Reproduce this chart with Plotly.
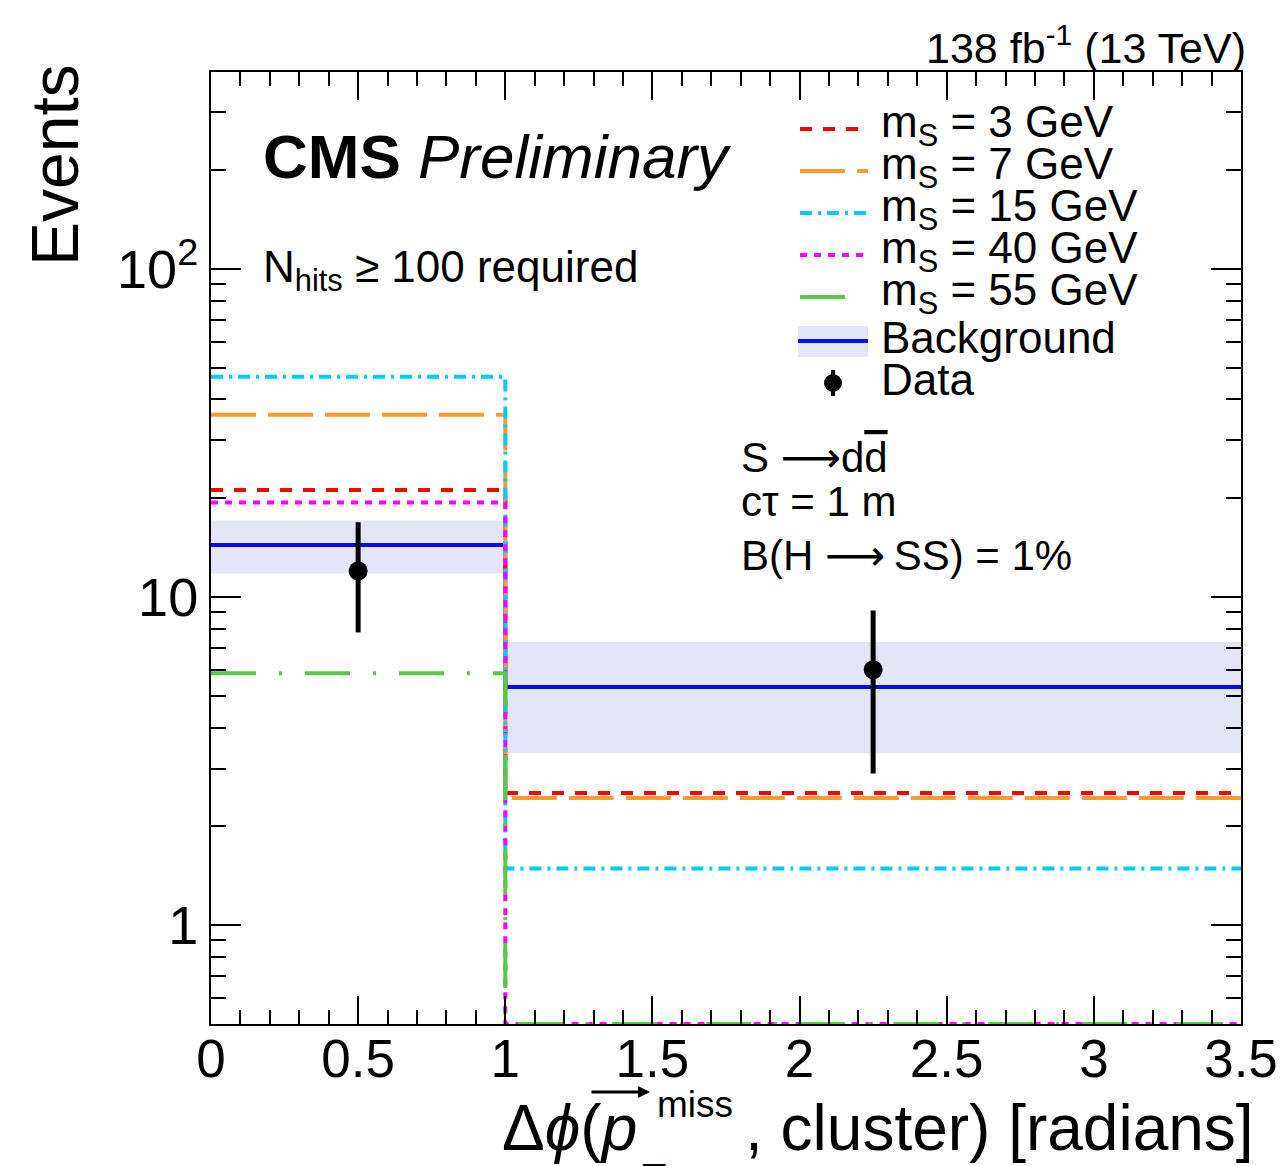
import math
import plotly.graph_objects as go

# ---------------- data ----------------
bin_edges = [0.0, 1.0, 3.5]
bkg = [14.4, 5.32]
bkg_up = [17.1, 7.3]
bkg_dn = [11.8, 3.34]

data_x = [0.5, 2.25]
data_y = [12.0, 6.0]
data_hi = [16.9, 9.1]
data_lo = [7.8, 2.9]

sig_labels = ["m<sub>S</sub> = 3 GeV", "m<sub>S</sub> = 7 GeV", "m<sub>S</sub> = 15 GeV",
              "m<sub>S</sub> = 40 GeV", "m<sub>S</sub> = 55 GeV"]
sig_ms3 = [21.2, 2.53]
sig_ms7 = [35.9, 2.44]
sig_ms15 = [46.9, 1.49]
sig_ms40 = [19.4, 0.0]
sig_ms55 = [5.86, 0.0]

x_ticks = [0, 0.5, 1, 1.5, 2, 2.5, 3, 3.5]
y_ticks = [1, 10, 100]
y_ticktext = ["1", "10", "10<sup>2</sup>"]

# ---------------- style ----------------
FONT = "Liberation Sans, Arial, Helvetica, sans-serif"
ARROW = "<span style='font-family:DejaVu Sans'>⟶</span>"
Y_MIN, Y_MAX = 0.5, 398.0
W, H = 1281, 1166
ML, MR, MT, MB = 211, 40, 72, 142
PW, PH = W - ML - MR, H - MT - MB

sig_styles = [
    dict(color="rgb(255,0,0)", dash="12px,11px"),
    dict(color="rgb(255,153,51)", dash="45px,12px"),
    dict(color="rgb(0,204,255)", dash="12px,6px,3px,6px"),
    dict(color="rgb(255,0,255)", dash="7px,7px"),
    dict(color="rgb(85,204,68)", dash="45px,23px,3px,23px"),
]
sig_series = [sig_ms3, sig_ms7, sig_ms15, sig_ms40, sig_ms55]


def px(xp):
    return (xp - ML) / PW


def py(yp):
    return (MT + PH - yp) / PH


def step_y(vals):
    v = [max(val, Y_MIN) for val in vals]
    return v + [v[-1]]


fig = go.Figure()

# background uncertainty band
for i in range(len(bkg)):
    x0, x1 = bin_edges[i], bin_edges[i + 1]
    fig.add_trace(go.Scatter(
        x=[x0, x1, x1, x0, x0], y=[bkg_dn[i], bkg_dn[i], bkg_up[i], bkg_up[i], bkg_dn[i]],
        mode="lines", fill="toself", fillcolor="rgb(229,229,248)",
        line=dict(width=0), hoverinfo="skip", showlegend=False))

# background line
fig.add_trace(go.Scatter(x=bin_edges, y=step_y(bkg), mode="lines",
                         line=dict(color="rgb(10,10,240)", width=4, shape="hv"),
                         showlegend=False))

# signals
for vals, st in zip(sig_series, sig_styles):
    fig.add_trace(go.Scatter(x=bin_edges, y=step_y(vals), mode="lines",
                             line=dict(color=st["color"], width=4, dash=st["dash"], shape="hv"),
                             showlegend=False))

# data
fig.add_trace(go.Scatter(
    x=data_x, y=data_y, mode="markers",
    marker=dict(color="black", size=19),
    error_y=dict(type="data", symmetric=False,
                 array=[h - v for h, v in zip(data_hi, data_y)],
                 arrayminus=[v - l for l, v in zip(data_lo, data_y)],
                 color="black", thickness=5, width=0),
    showlegend=False))

minor_vals = []
for dec in [0.1, 1, 10, 100]:
    for k in range(2, 10):
        v = k * dec
        if Y_MIN <= v <= Y_MAX:
            minor_vals.append(v)

fig.update_layout(
    width=W, height=H,
    margin=dict(l=ML, r=MR, t=MT, b=MB),
    paper_bgcolor="white", plot_bgcolor="white",
    font=dict(family=FONT, color="black"),
    showlegend=False,
    xaxis=dict(range=[bin_edges[0], bin_edges[-1]], tickvals=x_ticks,
               ticktext=[f"{t:g}" for t in x_ticks], automargin=False,
               ticks="inside", ticklen=28, tickwidth=2, tickcolor="black",
               minor=dict(ticks="inside", ticklen=14, tickwidth=2, tickcolor="black", dtick=0.1, tick0=0, showgrid=False),
               showline=True, linewidth=2, linecolor="black", mirror="allticks",
               showgrid=False, zeroline=False, tickfont=dict(size=53), ticklabelstandoff=-13),
    yaxis=dict(type="log", range=[math.log10(Y_MIN), math.log10(Y_MAX)],
               tickvals=y_ticks, ticktext=y_ticktext, automargin=False,
               ticks="inside", ticklen=30, tickwidth=2, tickcolor="black",
               minor=dict(ticks="inside", ticklen=15, tickwidth=2, tickcolor="black",
                          tickmode="array", tickvals=minor_vals, showgrid=False),
               showline=True, linewidth=2, linecolor="black", mirror="allticks",
               showgrid=False, zeroline=False, tickfont=dict(size=54)),
)

ann = []


def text(t, x, y, size, xanchor="left", yanchor="middle", **kw):
    ann.append(dict(text=t, x=px(x), y=py(y), xanchor=xanchor, yanchor=yanchor,
                    font=dict(size=size), showarrow=False, xref="paper", yref="paper", **kw))


# x axis title (pieces)
text("Δ<i>ϕ</i>(<i>p</i>", 500, 1128, 64)
text(", cluster) [radians]", 1256, 1128, 64, xanchor="right")
text("miss", 655, 1104, 37)
text("T", 640, 1178, 40)
ann.append(dict(text="", x=px(650), y=py(1092), ax=-60, ay=0, axref="pixel", ayref="pixel",
                xref="paper", yref="paper", showarrow=True, arrowhead=2, arrowsize=0.8,
                arrowwidth=3, arrowcolor="black", standoff=0))
# y axis title
text("Events", 55, 62, 66, xanchor="center", yanchor="top", textangle=-90)
# lumi
text("138 fb<sup>-1</sup> (13 TeV)", 1248, 45, 43, xanchor="right")
# CMS
text("<b>CMS</b> <i>Preliminary</i>", 261, 156, 62)
text("N<sub>hits</sub> ≥ 100 required", 261, 270, 44)
text(f"S {ARROW}d<span style='text-decoration:overline'>d</span>", 739, 457, 42)
text("cτ = 1 m", 739, 502, 42)
text(f"B(H {ARROW}\u2009SS) = 1%", 739, 555, 42)

# legend
leg_y = [125, 167, 209, 251, 293]
shapes = []
for lab, st, yy in zip(sig_labels, sig_styles, leg_y):
    text(lab, 879, yy, 44)
    shapes.append(dict(type="line", xref="paper", yref="paper", x0=px(800), x1=px(868),
                       y0=py(yy + 4), y1=py(yy + 4),
                       line=dict(color=st["color"], width=4, dash=st["dash"])))
shapes.append(dict(type="rect", xref="paper", yref="paper", x0=px(798), x1=px(868),
                   y0=py(357), y1=py(326), fillcolor="rgb(229,229,248)", line=dict(width=0)))
shapes.append(dict(type="line", xref="paper", yref="paper", x0=px(798), x1=px(868),
                   y0=py(341), y1=py(341), line=dict(color="rgb(10,10,240)", width=4)))
text("Background", 879, 337, 44)
shapes.append(dict(type="line", xref="paper", yref="paper", x0=px(833), x1=px(833),
                   y0=py(396), y1=py(370), line=dict(color="black", width=4)))
shapes.append(dict(type="circle", xref="paper", yref="paper", x0=px(824), x1=px(842),
                   y0=py(392), y1=py(374), fillcolor="black", line=dict(color="black", width=0)))
text("Data", 879, 380, 44)

fig.update_layout(annotations=ann, shapes=shapes)
fig.write_html("out.html")
